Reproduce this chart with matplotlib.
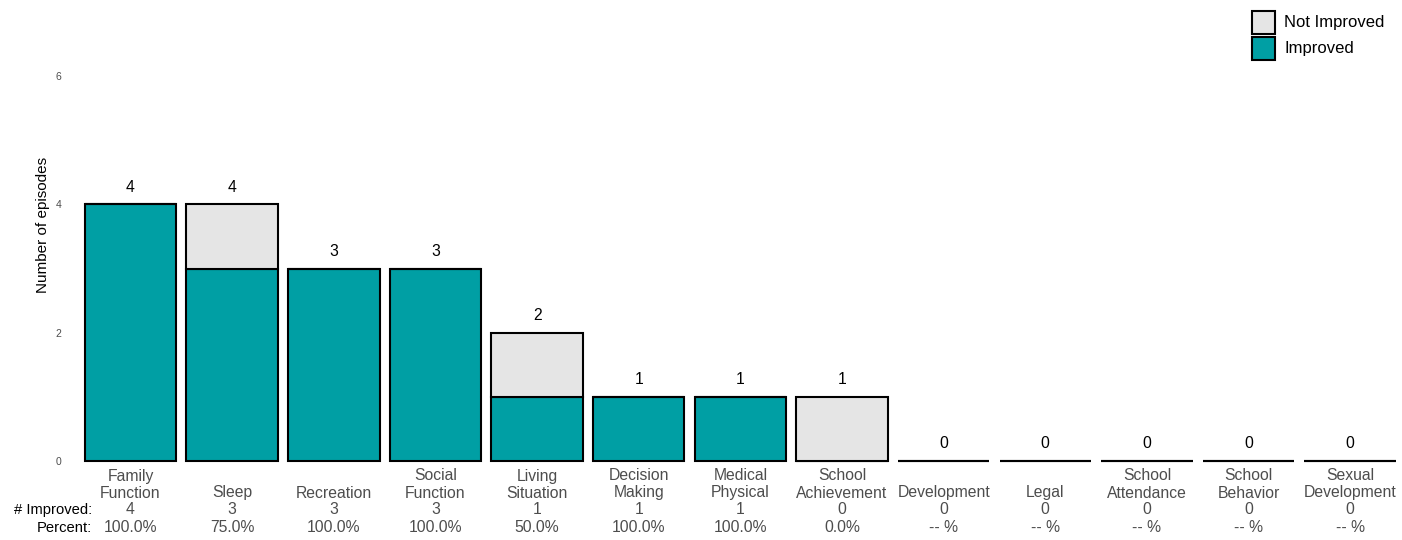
import matplotlib
matplotlib.use("Agg")
import matplotlib.pyplot as plt
from matplotlib.patches import Rectangle

plt.rcParams['font.family'] = ['Liberation Sans', 'DejaVu Sans']

categories = ["Family\nFunction", "Sleep", "Recreation", "Social\nFunction", "Living\nSituation",
              "Decision\nMaking", "Medical\nPhysical", "School\nAchievement", "Development",
              "Legal", "School\nAttendance", "School\nBehavior", "Sexual\nDevelopment"]
improved = [4, 3, 3, 3, 1, 1, 1, 0, 0, 0, 0, 0, 0]
not_improved = [0, 1, 0, 0, 1, 0, 0, 1, 0, 0, 0, 0, 0]
y_ticks = [0, 2, 4, 6]

TEAL = "#009FA4"
GREY = "#E5E5E5"
TXT = "#4D4D4D"
FS = 11.3

W, H = 1402, 540
fig = plt.figure(figsize=(W / 100, H / 100), dpi=100)

def fy(px):
    return 1 - px / H

def fx(px):
    return px / W

x0, x1 = 79.7, 1401.0
ytop, ybot = 76.0, 461.0
ax = fig.add_axes([fx(x0), fy(ybot), fx(x1 - x0), fy(ytop) - fy(ybot)])
ax.set_xlim(-0.5, len(categories) - 0.5)
ax.set_ylim(0, 6)

xs = list(range(len(categories)))
ax.bar(xs, improved, width=0.9, color=TEAL, edgecolor="black", linewidth=1.5, clip_on=False, zorder=2)
ax.bar(xs, not_improved, bottom=improved, width=0.9, color=GREY, edgecolor="black", linewidth=1.5,
       clip_on=False, zorder=2)

for i, (a, b) in enumerate(zip(improved, not_improved)):
    ax.annotate(str(a + b), (i, a + b), xytext=(0, 17), textcoords="offset pixels",
                ha="center", va="center", fontsize=FS, color="black")

for s in ax.spines.values():
    s.set_visible(False)
ax.set_xticks([])
ax.set_yticks(y_ticks)
ax.set_yticklabels([str(t) for t in y_ticks], fontsize=7.5, color=TXT)
ax.tick_params(axis="y", length=0, pad=13)

trans = ax.get_xaxis_transform()
def row_y(px):
    return (ybot - px) / (ybot - ytop)

for i, cat in enumerate(categories):
    lines = cat.split("\n")
    if len(lines) == 2:
        ax.text(i, row_y(476), lines[0], transform=trans, ha="center", va="center",
                fontsize=FS, color=TXT, clip_on=False)
    ax.text(i, row_y(493), lines[-1], transform=trans, ha="center", va="center",
            fontsize=FS, color=TXT, clip_on=False)
    ax.text(i, row_y(510), str(improved[i]), transform=trans, ha="center", va="center",
            fontsize=FS, color=TXT, clip_on=False)
    tot = improved[i] + not_improved[i]
    pct = f"{100 * improved[i] / tot:.1f}%" if tot > 0 else "-- %"
    ax.text(i, row_y(528), pct, transform=trans, ha="center", va="center",
            fontsize=FS, color=TXT, clip_on=False)

fig.text(fx(92), fy(510), "# Improved:", ha="right", va="center", fontsize=10.6, color="black")
fig.text(fx(92), fy(528), "Percent:", ha="right", va="center", fontsize=10.6, color="black")

fig.text(fx(43), fy(225), "Number of episodes", rotation=90, ha="center", va="center",
         fontsize=11, color="black")

# legend
for (label, col, top) in [("Not Improved", GREY, 11), ("Improved", TEAL, 37)]:
    fig.patches.append(Rectangle((fx(1252), fy(top + 23)), fx(23), 23 / H, transform=fig.transFigure,
                                 facecolor=col, edgecolor="black", linewidth=1.5))
    fig.text(fx(1284), fy(top + 11.5), label, ha="left", va="center", fontsize=12, color="black")

fig.savefig("out.png", dpi=100)
